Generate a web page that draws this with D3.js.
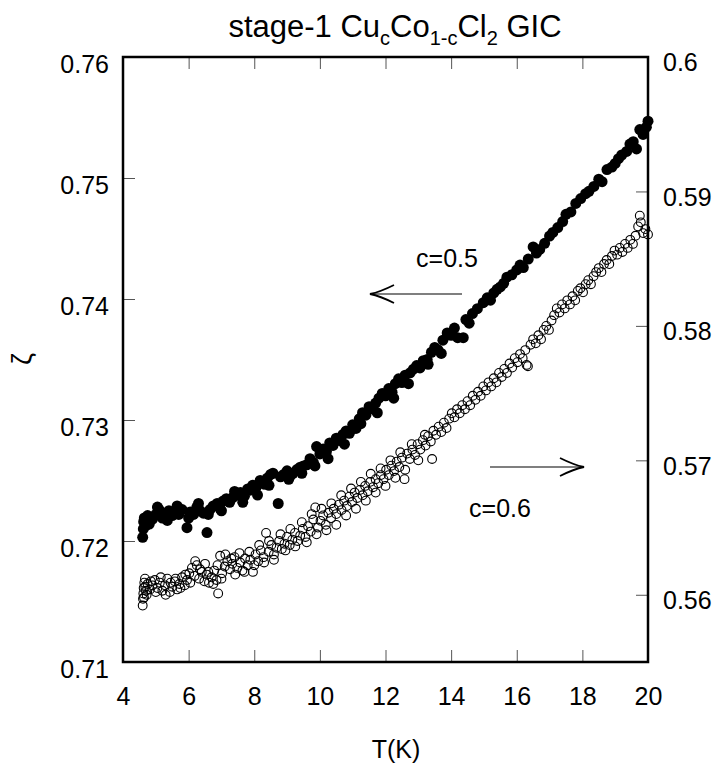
<!DOCTYPE html>
<html>
<head>
<meta charset="utf-8">
<script src="https://cdn.jsdelivr.net/npm/d3@7"></script>
<style>
  body { margin: 0; background: #fff; }
  svg text { font-family: "Liberation Sans", Arial, Helvetica, sans-serif; fill: #000; }
</style>
</head>
<body>
<div class="container"></div>
<script>
// c = 0.5 sample (filled, left axis)
const tHalf = [4.60,4.62,4.63,4.65,4.70,4.75,4.80,4.90,5.00,5.10,5.20,5.30,5.40,5.50,5.60,5.70,5.80,5.95,6.05,6.15,6.25,6.35,6.45,6.56,6.65,6.75,6.87,6.95,7.05,7.15,7.25,7.35,7.48,7.58,7.70,7.80,7.87,7.95,8.05,8.18,8.30,8.40,8.50,8.57,8.73,8.80,8.90,9.00,9.10,9.18,9.30,9.40,9.50,9.60,9.70,9.80,9.90,10.0,10.1,10.2,10.3,10.4,10.5,10.6,10.7,10.8,10.9,11.0,11.1,11.2,11.3,11.4,11.5,11.6,11.7,11.8,11.9,12.0,12.1,12.2,12.3,12.4,12.5,12.6,12.75,12.85,12.95,13.05,13.15,13.27,13.4,13.5,13.6,13.75,13.88,14.0,14.1,14.2,14.37,14.45,14.55,14.65,14.8,14.98,15.1,15.2,15.3,15.4,15.5,15.6,15.7,15.85,16.0,16.1,16.2,16.35,16.5,16.6,16.7,16.85,17.0,17.1,17.25,17.4,17.5,17.65,17.8,17.95,18.1,18.2,18.35,18.5,18.6,18.75,18.9,19.0,19.1,19.2,19.35,19.45,19.55,19.65,19.75,19.85,19.95,20.0,
  5.05,5.35,5.65,6.00,6.30,6.60,7.00,7.40,7.65,8.10,8.45,9.05,9.45,9.85,10.25,10.75,11.25,11.75,12.25,12.70,13.30,13.70];
const zetaHalf = [0.7203,0.7210,0.7216,0.7219,0.7213,0.7221,0.7214,0.7218,0.7222,0.7226,0.7219,0.7223,0.7225,0.7221,0.7224,0.7222,0.7226,0.7211,0.7224,0.7222,0.7228,0.7225,0.7223,0.7207,0.7226,0.7229,0.7231,0.7227,0.7233,0.7235,0.7232,0.7236,0.7238,0.7240,0.7237,0.7243,0.7242,0.7246,0.7244,0.7250,0.7247,0.7252,0.7255,0.7256,0.7231,0.7253,0.7255,0.7258,0.7254,0.7256,0.7259,0.7261,0.7262,0.7263,0.7268,0.7265,0.7278,0.7272,0.7276,0.7274,0.7281,0.7279,0.7285,0.7283,0.7288,0.7291,0.7289,0.7296,0.7293,0.7301,0.7306,0.7304,0.7311,0.7309,0.7314,0.7318,0.7322,0.7320,0.7326,0.7323,0.7330,0.7334,0.7331,0.7337,0.7339,0.7342,0.7345,0.7343,0.7349,0.7350,0.7356,0.7360,0.7358,0.7366,0.7372,0.7370,0.7376,0.7368,0.7368,0.7383,0.7380,0.7388,0.7392,0.7397,0.7401,0.7399,0.7405,0.7408,0.7410,0.7413,0.7418,0.7420,0.7424,0.7428,0.7426,0.7433,0.7443,0.7438,0.7441,0.7446,0.7452,0.7455,0.7459,0.7464,0.7470,0.7472,0.7479,0.7483,0.7487,0.7489,0.7493,0.7499,0.7497,0.7507,0.7509,0.7512,0.7516,0.7519,0.7522,0.7528,0.7530,0.7524,0.7540,0.7536,0.7542,0.7547,
  0.7228,0.7217,0.7229,0.7219,0.7231,0.7222,0.7225,0.7241,0.7232,0.7238,0.7246,0.7251,0.7256,0.7262,0.7268,0.7280,0.7297,0.7306,0.7318,0.7330,0.7346,0.7355];

// c = 0.6 sample (open, right axis)
const tSix = [4.60,4.61,4.62,4.63,4.65,4.67,4.70,4.75,4.82,4.90,4.97,5.05,5.12,5.20,5.28,5.35,5.43,5.50,5.58,5.65,5.72,5.80,5.88,5.95,6.02,6.10,6.18,6.25,6.32,6.40,6.48,6.55,6.62,6.70,6.78,6.85,6.90,6.96,7.02,7.10,7.18,7.26,7.33,7.40,7.48,7.57,7.64,7.72,7.80,7.88,7.96,8.04,8.12,8.20,8.28,8.36,8.44,8.52,8.60,8.68,8.76,8.84,8.92,9.00,9.08,9.16,9.24,9.32,9.40,9.48,9.56,9.64,9.72,9.80,9.86,9.94,10.02,10.10,10.18,10.26,10.34,10.42,10.50,10.58,10.66,10.74,10.82,10.90,10.98,11.06,11.14,11.22,11.30,11.38,11.46,11.54,11.62,11.70,11.78,11.86,11.94,12.02,12.10,12.18,12.26,12.34,12.42,12.50,12.58,12.66,12.74,12.82,12.90,12.98,13.06,13.14,13.22,13.30,13.38,13.42,13.46,13.54,13.62,13.70,13.78,13.86,13.94,14.02,14.10,14.18,14.26,14.34,14.42,14.50,14.58,14.66,14.74,14.82,14.90,14.98,15.06,15.14,15.22,15.30,15.38,15.46,15.54,15.62,15.70,15.78,15.86,15.94,16.02,16.10,16.18,16.26,16.30,16.34,16.42,16.50,16.58,16.66,16.74,16.82,16.90,16.98,17.06,17.14,17.22,17.30,17.38,17.46,17.54,17.62,17.70,17.78,17.86,17.94,18.02,18.10,18.18,18.26,18.34,18.42,18.50,18.58,18.66,18.74,18.82,18.90,18.98,19.06,19.14,19.22,19.30,19.38,19.46,19.54,19.62,19.70,19.75,19.78,19.85,19.92,20.00,
  4.64,4.68,4.72,4.85,5.00,5.15,5.30,5.45,5.60,5.75,5.90,6.05,6.20,6.35,6.50,6.60,6.75,6.88,7.00,7.12,7.30,7.42,7.55,7.70,7.85,8.00,8.15,8.30,8.45,8.60,8.80,8.95,9.10,9.25,9.45,9.60,9.75,9.90,10.05,10.20,10.35,10.50,10.65,10.80,10.95,11.10,11.25,11.40,11.55,11.70,11.85,12.00,12.15,12.30,12.45,12.60,12.80,13.00,13.20];
const zetaSix = [0.5592,0.5597,0.5601,0.5605,0.5609,0.5612,0.5603,0.5608,0.5604,0.5607,0.5611,0.5605,0.5609,0.5603,0.5607,0.5612,0.5602,0.5606,0.5610,0.5604,0.5608,0.5613,0.5607,0.5611,0.5616,0.5620,0.5614,0.5622,0.5612,0.5617,0.5610,0.5615,0.5609,0.5613,0.5618,0.5611,0.5601,0.5629,0.5616,0.5621,0.5625,0.5619,0.5623,0.5628,0.5620,0.5624,0.5618,0.5627,0.5622,0.5626,0.5617,0.5630,0.5625,0.5633,0.5628,0.5646,0.5632,0.5637,0.5630,0.5635,0.5640,0.5634,0.5638,0.5643,0.5637,0.5641,0.5646,0.5640,0.5644,0.5649,0.5643,0.5651,0.5647,0.5656,0.5665,0.5650,0.5655,0.5659,0.5652,0.5661,0.5657,0.5664,0.5660,0.5667,0.5663,0.5670,0.5666,0.5673,0.5669,0.5676,0.5672,0.5678,0.5674,0.5681,0.5677,0.5684,0.5680,0.5686,0.5683,0.5689,0.5686,0.5693,0.5689,0.5696,0.5692,0.5699,0.5695,0.5702,0.5686,0.5705,0.5701,0.5708,0.5704,0.5712,0.5708,0.5715,0.5711,0.5718,0.5714,0.5701,0.5722,0.5719,0.5725,0.5721,0.5728,0.5724,0.5731,0.5735,0.5732,0.5738,0.5735,0.5741,0.5738,0.5744,0.5741,0.5748,0.5745,0.5751,0.5748,0.5755,0.5752,0.5758,0.5755,0.5761,0.5758,0.5765,0.5762,0.5768,0.5765,0.5772,0.5769,0.5776,0.5773,0.5779,0.5776,0.5782,0.5771,0.5770,0.5786,0.5790,0.5787,0.5793,0.5790,0.5797,0.5800,0.5797,0.5804,0.5808,0.5813,0.5810,0.5816,0.5813,0.5819,0.5816,0.5822,0.5819,0.5826,0.5828,0.5825,0.5831,0.5834,0.5831,0.5837,0.5840,0.5843,0.5840,0.5846,0.5849,0.5846,0.5852,0.5856,0.5853,0.5858,0.5855,0.5861,0.5858,0.5864,0.5861,0.5867,0.5874,0.5882,0.5877,0.5869,0.5872,0.5868,
  0.5598,0.5606,0.5600,0.5610,0.5602,0.5613,0.5600,0.5609,0.5612,0.5605,0.5615,0.5609,0.5625,0.5619,0.5623,0.5617,0.5608,0.5622,0.5612,0.5630,0.5627,0.5615,0.5631,0.5617,0.5632,0.5622,0.5637,0.5624,0.5640,0.5626,0.5645,0.5633,0.5649,0.5636,0.5654,0.5639,0.5660,0.5645,0.5664,0.5648,0.5668,0.5652,0.5674,0.5659,0.5679,0.5664,0.5684,0.5670,0.5690,0.5676,0.5694,0.5681,0.5700,0.5687,0.5706,0.5693,0.5712,0.5700,0.5719];

const xTicks = [4, 6, 8, 10, 12, 14, 16, 18, 20];
const leftTicks = [0.71, 0.72, 0.73, 0.74, 0.75, 0.76];
const rightTicks = [0.56, 0.57, 0.58, 0.59, 0.6];

const W = 719, H = 765;
const box = {left: 123, right: 648, top: 57, bottom: 662};

const svg = d3.select(".container").append("svg")
    .attr("width", W)
    .attr("height", H);

const x = d3.scaleLinear().domain([4, 20]).range([box.left, box.right]);
const yL = d3.scaleLinear().domain([0.71, 0.76]).range([box.bottom, box.top]);
const yR = d3.scaleLinear().domain([0.555, 0.6]).range([box.bottom, box.top]);

const fmt = d3.format("~g");
const tickLen = 12;

// axes, ticks pointing inside the box
function styleAxis(g) {
    g.select(".domain").remove();
    g.selectAll(".tick line").attr("stroke", "#555").attr("stroke-width", 1);
    g.selectAll(".tick text").attr("font-size", "25px").attr("fill", "#000");
}

svg.append("g")
    .attr("transform", `translate(0,${box.bottom})`)
    .call(d3.axisBottom(x).tickValues(xTicks).tickFormat(fmt).tickSizeInner(-tickLen).tickSizeOuter(0).tickPadding(25))
    .call(styleAxis);

svg.append("g")
    .attr("transform", `translate(0,${box.top})`)
    .call(d3.axisTop(x).tickValues(xTicks).tickFormat("").tickSizeInner(-tickLen).tickSizeOuter(0))
    .call(styleAxis);

svg.append("g")
    .attr("transform", `translate(${box.left},0)`)
    .call(d3.axisLeft(yL).tickValues(leftTicks).tickFormat(fmt).tickSizeInner(-tickLen).tickSizeOuter(0).tickPadding(14))
    .call(styleAxis)
    .call(g => g.selectAll(".tick text").attr("dy", "0.6em"));

svg.append("g")
    .attr("transform", `translate(${box.right},0)`)
    .call(d3.axisRight(yR).tickValues(rightTicks).tickFormat(fmt).tickSizeInner(-tickLen).tickSizeOuter(0).tickPadding(15))
    .call(styleAxis)
    .call(g => g.selectAll(".tick text").attr("dy", "0.55em"));

// data
const half = tHalf.map((t, i) => ({t, z: zetaHalf[i]}));
const six = tSix.map((t, i) => ({t, z: zetaSix[i]}));

svg.append("g").selectAll("circle")
    .data(six)
    .join("circle")
    .attr("cx", d => x(d.t))
    .attr("cy", d => yR(d.z))
    .attr("r", 4.4)
    .attr("fill", "none")
    .attr("stroke", "#000")
    .attr("stroke-width", 1.1);

svg.append("g").selectAll("circle")
    .data(half)
    .join("circle")
    .attr("cx", d => x(d.t))
    .attr("cy", d => yL(d.z))
    .attr("r", 5.5)
    .attr("fill", "#000");

// frame
svg.append("rect")
    .attr("x", box.left)
    .attr("y", box.top)
    .attr("width", box.right - box.left)
    .attr("height", box.bottom - box.top)
    .attr("fill", "none")
    .attr("stroke", "#000")
    .attr("stroke-width", 2.5);

// title with subscripts
const title = svg.append("text")
    .attr("x", 395)
    .attr("y", 37)
    .attr("text-anchor", "middle")
    .attr("font-size", "31px");
const parts = [["stage-1 Cu", false], ["c", true], ["Co", false], ["1-c", true], ["Cl", false], ["2", true], [" GIC", false]];
let down = false;
parts.forEach(([s, sub]) => {
    const ts = title.append("tspan").text(s);
    if (sub) {
        ts.attr("font-size", "20px").attr("dy", down ? 0 : 8);
        down = true;
    } else {
        ts.attr("dy", down ? -8 : 0);
        down = false;
    }
});

// axis titles
svg.append("text")
    .attr("x", 396)
    .attr("y", 758)
    .attr("text-anchor", "middle")
    .attr("font-size", "25px")
    .text("T(K)");

svg.append("text")
    .attr("transform", "translate(31,359) rotate(-90)")
    .attr("text-anchor", "middle")
    .attr("font-size", "27px")
    .text("ζ");

// annotations
function arrow(x0, x1, y) {
    const dir = Math.sign(x1 - x0);
    const g = svg.append("g").attr("stroke", "#000").attr("fill", "none");
    g.append("line").attr("x1", x0).attr("x2", x1).attr("y1", y).attr("y2", y).attr("stroke-width", 1.2);
    g.append("path")
        .attr("d", `M${x1 - dir * 24},${y - 9} Q${x1 - dir * 10},${y - 2} ${x1},${y} Q${x1 - dir * 10},${y + 2} ${x1 - dir * 24},${y + 9}`)
        .attr("stroke-width", 1.8);
}

svg.append("text")
    .attr("x", 447)
    .attr("y", 267)
    .attr("text-anchor", "middle")
    .attr("font-size", "25px")
    .text("c=0.5");
arrow(462, 370, 294);

svg.append("text")
    .attr("x", 500)
    .attr("y", 517)
    .attr("text-anchor", "middle")
    .attr("font-size", "25px")
    .text("c=0.6");
arrow(490, 584, 467);
</script>
</body>
</html>
